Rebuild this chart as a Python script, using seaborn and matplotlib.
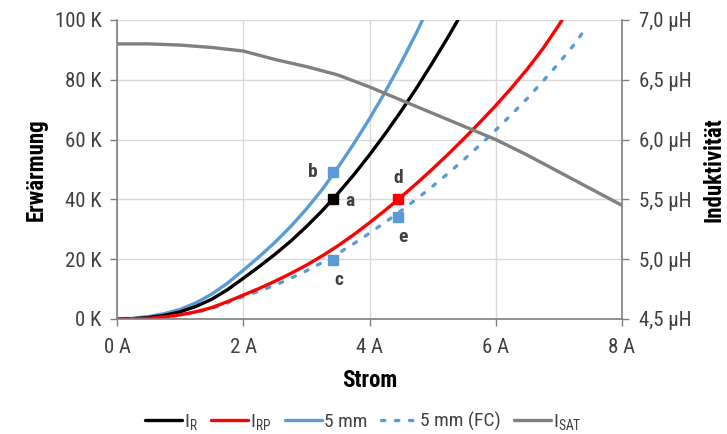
import matplotlib
matplotlib.use("Agg")
import matplotlib.pyplot as plt
from matplotlib import font_manager
import seaborn as sns
import numpy as np
from matplotlib.lines import Line2D
from matplotlib.ticker import FuncFormatter

# ---- data ----
x_r = [0, 0.25, 0.5, 0.75, 1, 1.25, 1.5, 1.75, 2, 2.25, 2.5, 2.75, 3, 3.25, 3.5,
       3.75, 4, 4.25, 4.5, 4.75, 5, 5.25, 5.4]
y_r = [0, 0.1, 0.5, 1.2, 2.4, 4.2, 6.6, 9.8, 13.6, 17.5, 21.6, 26, 30.9, 36.2, 42,
       48.2, 54.9, 62, 69.5, 77.4, 85.8, 94.5, 100]

x_rp = [0, 0.25, 0.5, 0.75, 1, 1.25, 1.5, 1.75, 2, 2.25, 2.5, 2.75, 3, 3.25, 3.5,
        3.75, 4, 4.25, 4.5, 4.75, 5, 5.25, 5.5, 5.75, 6, 6.25, 6.5, 6.75, 7, 7.05]
y_rp = [0, 0.05, 0.2, 0.7, 1.4, 2.4, 3.8, 5.8, 8, 10.2, 12.6, 15.2, 18, 21.1, 24.5,
        28.2, 32.2, 36.4, 40.8, 45.4, 50.2, 55.2, 60.4, 65.8, 71.4, 77.3, 83.6, 90.5, 98.3, 100]

x_5mm = [0, 0.25, 0.5, 0.75, 1, 1.25, 1.5, 1.75, 2, 2.25, 2.5, 2.75, 3, 3.25, 3.5,
         3.75, 4, 4.25, 4.5, 4.75, 4.84]
y_5mm = [0, 0.2, 0.8, 1.8, 3.2, 5.4, 8.3, 12.0, 16.3, 20.8, 25.6, 30.9, 36.8, 43.3, 50.7,
         58.6, 67, 76, 85.7, 96, 100]

x_fc = [0, 0.25, 0.5, 0.75, 1, 1.25, 1.5, 1.75, 2, 2.25, 2.5, 2.75, 3, 3.25, 3.5,
        3.75, 4, 4.25, 4.5, 4.75, 5, 5.25, 5.5, 5.75, 6, 6.25, 6.5, 6.75, 7, 7.25, 7.4]
y_fc = [0, 0.05, 0.2, 0.6, 1.3, 2.2, 3.5, 5.4, 7.5, 9.3, 11.3, 13.6, 16.1, 18.9, 21.9,
        25.2, 28.7, 32.4, 36.2, 40.2, 44.4, 48.8, 53.4, 58.2, 63.2, 68.4, 73.8, 79.6, 85.6, 92, 96.5]

x_sat = [0, 0.5, 1, 1.5, 2, 2.5, 3, 3.5, 4, 4.5, 5, 5.5, 6, 6.5, 7, 7.5, 8]
y_sat = [6.80, 6.80, 6.79, 6.77, 6.74, 6.67, 6.61, 6.54, 6.44, 6.33, 6.22, 6.11, 6.00,
         5.87, 5.73, 5.59, 5.45]

pt_labels = ["a", "b", "c", "d", "e"]
pt_x = [3.42, 3.42, 3.42, 4.45, 4.45]
pt_y = [40, 49.3, 19.7, 40, 34.2]
pt_series = ["R", "5mm", "fc", "RP", "fc"]

series_labels = [r"I$_\mathregular{R}$", r"I$_\mathregular{RP}$", "5 mm", "5 mm (FC)",
                 r"I$_\mathregular{SAT}$"]

# ---- font selection ----
def pick_font(cands):
    for c in cands:
        try:
            font_manager.findfont(font_manager.FontProperties(family=c), fallback_to_default=False)
            return c
        except Exception:
            pass
    return "DejaVu Sans"

FONT = pick_font(["Roboto Condensed", "Liberation Sans Narrow", "Open Sans Condensed",
                  "Noto Sans Condensed", "Roboto", "Liberation Sans"])

sns.set_theme(style="white")
plt.rcParams['font.family'] = [FONT, 'DejaVu Sans']
plt.rcParams['mathtext.fontset'] = 'custom'
plt.rcParams['mathtext.rm'] = FONT
plt.rcParams['mathtext.it'] = FONT
plt.rcParams['mathtext.bf'] = FONT

BLACK = "#000000"
RED = "#FF0000"
BLUE = "#5B9BD5"
GRAY = "#808080"
TXT = "#404040"
colors = {"R": BLACK, "RP": RED, "5mm": BLUE, "fc": BLUE}
DASH = (0, (1.0, 3.2))

fig = plt.figure(figsize=(7.27, 4.34), dpi=100)
ax = fig.add_axes([0.161, 0.265, 0.6946, 0.689])
ax2 = ax.twinx()

lw = 2.4
sns.lineplot(x=x_5mm, y=y_5mm, ax=ax, color=BLUE, lw=lw)
sns.lineplot(x=x_r, y=y_r, ax=ax, color=BLACK, lw=lw)
sns.lineplot(x=x_fc, y=y_fc, ax=ax, color=BLUE, lw=lw, linestyle=DASH,
             dash_capstyle="round")
sns.lineplot(x=x_rp, y=y_rp, ax=ax, color=RED, lw=lw)
sns.lineplot(x=x_sat, y=y_sat, ax=ax2, color=GRAY, lw=lw)

for lab, px, py, s in zip(pt_labels, pt_x, pt_y, pt_series):
    ax.plot(px, py, marker="s", ms=7.2, color=colors[s], zorder=5, ls="none")

offsets = {"a": (12.5, -1.5), "b": (-14.5, 0), "c": (4.3, -14.5),
           "d": (0, 15.5), "e": (3.6, -14.5)}
for lab, px, py in zip(pt_labels, pt_x, pt_y):
    dx, dy = offsets[lab]
    ax.annotate(lab, (px, py), xytext=(dx, dy), textcoords="offset points",
                ha="center", va="center", fontsize=14, fontweight="bold", color=TXT)

ax.set_xlim(0, 8)
ax.set_ylim(0, 100)
ax2.set_ylim(4.5, 7.0)
ax.set_xticks(np.arange(0, 9, 2))
ax.set_yticks(np.arange(0, 101, 20))
ax2.set_yticks(np.arange(4.5, 7.01, 0.5))
ax.xaxis.set_major_formatter(FuncFormatter(lambda v, p: f"{v:.0f} A"))
ax.yaxis.set_major_formatter(FuncFormatter(lambda v, p: f"{v:.0f} K"))
ax2.yaxis.set_major_formatter(FuncFormatter(lambda v, p: f"{v:.1f}".replace(".", ",") + " µH"))

ax.grid(True, color="#D9D9D9", lw=1)
ax2.grid(False)
for a in (ax, ax2):
    a.spines["top"].set_visible(False)
    for side in ["left", "right", "bottom"]:
        a.spines[side].set_color(GRAY)
        a.spines[side].set_linewidth(1.2)
ax2.spines["left"].set_visible(False)
ax2.spines["bottom"].set_visible(False)
ax.spines["right"].set_visible(False)

ax.tick_params(axis="y", direction="out", length=5, width=1, color=GRAY,
               labelsize=15, labelcolor=TXT, left=True, pad=6)
ax.tick_params(axis="x", direction="out", length=5, width=1, color=GRAY,
               labelsize=15, labelcolor=TXT, bottom=True, pad=9)
ax2.tick_params(axis="y", direction="out", length=5, width=1, color=GRAY,
                labelsize=15, labelcolor=TXT, right=True, pad=7)

ax.set_xlabel("Strom", fontsize=16.5, fontweight="bold", color=BLACK, labelpad=8)
ax.set_ylabel("Erwärmung", fontsize=16.5, fontweight="bold", color=BLACK, labelpad=5)
ax2.set_ylabel("Induktivität", fontsize=16.5, fontweight="bold", color=BLACK, labelpad=8)

handles = [
    Line2D([], [], color=BLACK, lw=lw),
    Line2D([], [], color=RED, lw=lw),
    Line2D([], [], color=BLUE, lw=lw),
    Line2D([], [], color=BLUE, lw=lw, linestyle=DASH, dash_capstyle="round"),
    Line2D([], [], color=GRAY, lw=lw),
]
fig.legend(handles, series_labels, loc="center", bbox_to_anchor=(0.5, 0.028), ncol=5,
           frameon=False, fontsize=14, handlelength=1.9, handletextpad=0.1,
           columnspacing=0.7, labelcolor=TXT)

fig.savefig("out.png", dpi=100)
